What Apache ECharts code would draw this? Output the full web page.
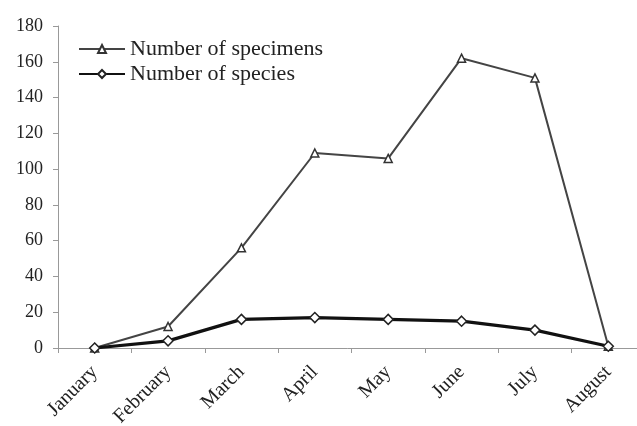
<!DOCTYPE html>
<html><head><meta charset="utf-8">
<script src="https://cdn.jsdelivr.net/npm/echarts@6/dist/echarts.min.js"></script>
<style>html,body{margin:0;padding:0;background:#fff}#c{width:637px;height:426px}</style>
</head><body><div id="c"></div>
<script>
const months = ["January","February","March","April","May","June","July","August"];
const specimens = [0, 12, 56, 109, 106, 162, 151, 1];
const species = [0, 4, 16, 17, 16, 15, 10, 1];
const yTicks = [0, 20, 40, 60, 80, 100, 120, 140, 160, 180];

const chart = echarts.init(document.getElementById('c'));
const font = "'Liberation Serif','Times New Roman',serif";
chart.setOption({
  animation: false,
  backgroundColor: '#fff',
  grid: {left: 58, top: 26, right: -8, height: 322, outerBoundsMode: 'none', containLabel: false},
  legend: {
    left: 73, top: 33, orient: 'vertical', itemGap: 3, itemWidth: 46, itemHeight: 10,
    textStyle: {fontFamily: font, fontSize: 22, color: '#222'},
    data: ['Number of specimens', 'Number of species']
  },
  xAxis: {
    type: 'category', data: months, boundaryGap: true,
    axisLine: {lineStyle: {color: '#999', width: 1}},
    axisTick: {show: true, length: 5, lineStyle: {color: '#999'}},
    axisLabel: {rotate: 45, fontFamily: font, fontSize: 20, color: '#222', margin: 21}
  },
  yAxis: {
    type: 'value', min: yTicks[0], max: yTicks[yTicks.length-1], interval: 20,
    splitLine: {show: false},
    axisLine: {show: true, lineStyle: {color: '#999', width: 1}},
    axisTick: {show: true, length: 5, lineStyle: {color: '#999'}},
    axisLabel: {fontFamily: font, fontSize: 18, color: '#222', margin: 15}
  },
  series: [
    {
      name: 'Number of specimens', type: 'line', data: specimens,
      symbol: 'triangle', symbolSize: 8, showAllSymbol: true,
      lineStyle: {color: '#444', width: 2},
      itemStyle: {color: '#fff', borderColor: '#333', borderWidth: 1.5}
    },
    {
      name: 'Number of species', type: 'line', data: species,
      symbol: 'diamond', symbolSize: 10, showAllSymbol: true,
      lineStyle: {color: '#111', width: 3.2},
      itemStyle: {color: '#fff', borderColor: '#222', borderWidth: 1.5}
    }
  ]
});
</script></body></html>
